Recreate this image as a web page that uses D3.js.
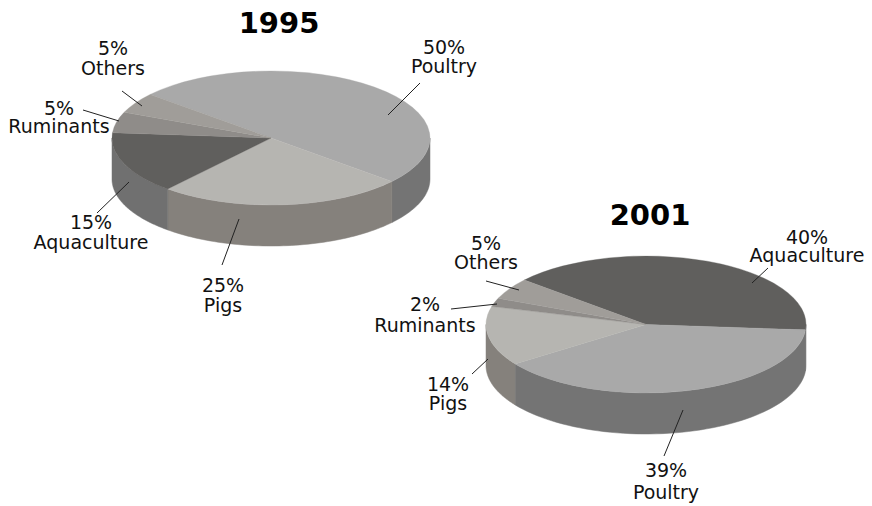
<!DOCTYPE html>
<html>
<head>
<meta charset="utf-8">
<script src="https://d3js.org/d3.v7.min.js"></script>
<style>
body { margin: 0; background: #fff; }
text { font-family: "DejaVu Sans", Verdana, sans-serif; font-size: 19px; fill: #111; text-anchor: middle; }
.title { font-size: 29px; font-weight: bold; fill: #000; }
.leader { stroke: #222; stroke-width: 1; fill: none; }
</style>
</head>
<body>
<script>
var names1995 = ["Poultry", "Pigs", "Aquaculture", "Ruminants", "Others"];
var values1995 = [50, 25, 15, 5, 5];
var names2001 = ["Aquaculture", "Poultry", "Pigs", "Ruminants", "Others"];
var values2001 = [40, 39, 14, 2, 5];

var topColors = {Poultry: "#a9a9a9", Pigs: "#b6b5b1", Aquaculture: "#605f5d", Ruminants: "#8f8c89", Others: "#a09d99"};
var sideColors = {Poultry: "#747474", Pigs: "#85817c", Aquaculture: "#707070", Ruminants: "#7a7875", Others: "#85827f"};

// label anchors: [name, x, y of first line, y of second line, leader x1,y1,x2,y2]
var labels1995 = [
    ["Poultry", 444, 54, 73, 388, 115, 420, 83],
    ["Pigs", 223, 292, 312, 239, 219, 222, 265],
    ["Aquaculture", 91, 229, 249, 129, 182, 97, 213],
    ["Ruminants", 59, 115, 133, 119, 121, 83, 110],
    ["Others", 113, 55, 75, 142, 106, 122, 91]
];
var labels2001 = [
    ["Aquaculture", 807, 244, 262, 752, 283, 768, 268],
    ["Poultry", 666, 477, 499, 683, 410, 664, 456],
    ["Pigs", 448, 391, 410, 488, 359, 472, 374],
    ["Ruminants", 425, 311, 332, 497, 304, 451, 309],
    ["Others", 486, 250, 269, 519, 290, 486, 281]
];

var svg = d3.select("body").append("svg")
    .attr("width", 872)
    .attr("height", 506);

var drawPie = function(cfg){
    var pie = d3.pie().sort(null)
        .startAngle(cfg.start)
        .endAngle(cfg.start + 2 * Math.PI);
    var slices = pie(cfg.values).map(function(d, i){
        d.name = cfg.names[i];
        return d;
    });

    var xOf = function(a){ return cfg.cx + cfg.rx * Math.sin(a); };
    var yOf = function(a){ return cfg.cy - cfg.ry * Math.cos(a); };

    // side wall, only the part of the rim that faces the viewer
    var wall = d3.area()
        .x(xOf)
        .y0(yOf)
        .y1(function(a){ return yOf(a) + cfg.depth; });

    slices.forEach(function(d){
        var a0 = Math.max(d.startAngle, Math.PI / 2);
        var a1 = Math.min(d.endAngle, 3 * Math.PI / 2);
        if (a1 <= a0) return;
        var steps = d3.range(0, 61).map(function(k){ return a0 + (a1 - a0) * k / 60; });
        svg.append("path")
            .attr("d", wall(steps))
            .attr("fill", sideColors[d.name])
            .attr("stroke", sideColors[d.name])
            .attr("stroke-width", 0.5);
    });

    var arc = d3.arc().innerRadius(0).outerRadius(cfg.rx);
    var top = svg.append("g")
        .attr("transform", "translate(" + cfg.cx + "," + cfg.cy + ") scale(1," + (cfg.ry / cfg.rx) + ")");
    top.selectAll("path").data(slices).enter().append("path")
        .attr("d", arc)
        .attr("fill", function(d){ return topColors[d.name]; })
        .attr("stroke", function(d){ return topColors[d.name]; })
        .attr("stroke-width", 0.5);

    svg.append("text").attr("class", "title")
        .attr("x", cfg.titleX).attr("y", cfg.titleY).text(cfg.title);

    cfg.labels.forEach(function(l){
        var v = cfg.values[cfg.names.indexOf(l[0])];
        var label = svg.append("text");
        label.append("tspan").attr("x", l[1]).attr("y", l[2]).text(v + "%");
        label.append("tspan").attr("x", l[1]).attr("y", l[3]).text(l[0]);
        svg.append("line").attr("class", "leader")
            .attr("x1", l[4]).attr("y1", l[5]).attr("x2", l[6]).attr("y2", l[7]);
    });
};

drawPie({title: "1995", titleX: 279, titleY: 33, names: names1995, values: values1995, labels: labels1995,
    cx: 271, cy: 138, rx: 159, ry: 67, depth: 41, start: -49.5 * Math.PI / 180});
drawPie({title: "2001", titleX: 650, titleY: 225, names: names2001, values: values2001, labels: labels2001,
    cx: 646, cy: 324.5, rx: 160, ry: 68.5, depth: 41, start: -49.5 * Math.PI / 180});
</script>
</body>
</html>
